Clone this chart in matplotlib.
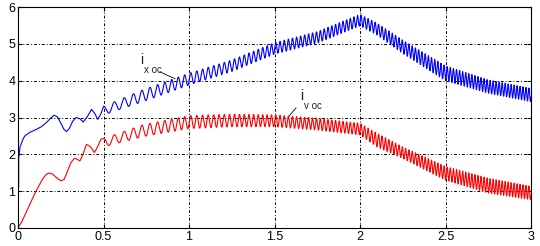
import numpy as np
import matplotlib
matplotlib.use("Agg")
import matplotlib.pyplot as plt

plt.rcParams["font.family"] = ["Liberation Sans", "DejaVu Sans"]

# ── start-up transient (t < 0.5) ──
blue_t0 = [0.004, 0.004, 0.008, 0.012, 0.02, 0.03, 0.04, 0.07, 0.10, 0.137, 0.17,
           0.195, 0.212, 0.23, 0.25, 0.27, 0.285, 0.30, 0.32, 0.34, 0.36, 0.382,
           0.405, 0.43, 0.45, 0.466, 0.485, 0.5]
blue_v0 = [1.1, 1.9, 2.05, 2.2, 2.3, 2.42, 2.5, 2.6, 2.66, 2.75, 2.88,
           3.0, 3.06, 3.02, 2.85, 2.67, 2.62, 2.7, 2.9, 3.0, 2.97, 2.88,
           3.02, 3.22, 3.1, 2.95, 3.1, 3.3]
red_t0 = [0.0, 0.02, 0.06, 0.10, 0.14, 0.16, 0.177, 0.20, 0.23, 0.25, 0.27,
          0.29, 0.31, 0.33, 0.345, 0.362, 0.38, 0.40, 0.425, 0.447, 0.465,
          0.485, 0.5]
red_v0 = [0.0, 0.15, 0.55, 0.95, 1.3, 1.43, 1.49, 1.47, 1.35, 1.28, 1.32,
          1.55, 1.78, 1.89, 1.87, 1.82, 2.0, 2.27, 2.2, 2.05, 2.2,
          2.41, 2.43]

# ── ripple section: upper / lower envelopes ──
env_t = [0.5, 0.73, 1.0, 1.25, 1.5, 1.75, 2.0, 2.1, 2.25, 2.5, 2.75, 3.0]
blue_hi = [3.3, 3.75, 4.2, 4.56, 5.03, 5.33, 5.8, 5.56, 5.1, 4.4, 4.02, 3.79]
blue_lo = [3.07, 3.43, 3.88, 4.25, 4.72, 5.02, 5.49, 5.24, 4.74, 4.0, 3.66, 3.43]
red_hi = [2.43, 2.8, 3.05, 3.09, 3.07, 2.98, 2.84, 2.57, 2.2, 1.67, 1.35, 1.13]
red_lo = [2.2, 2.48, 2.7, 2.75, 2.75, 2.66, 2.53, 2.2, 1.89, 1.3, 0.95, 0.77]
# ripple cycles per unit time (counted from the picture)
freq_t = [0.5, 0.7, 1.0, 1.5, 2.0, 2.5, 3.0]
freq_f = [15, 20, 28, 40, 48, 55, 58]

t1 = np.linspace(0.5, 3.0, 30000)
f = np.interp(t1, freq_t, freq_f)
phase = 2 * np.pi * np.concatenate([[0], np.cumsum(0.5 * (f[1:] + f[:-1]) * np.diff(t1))])
wave = np.cos(phase)


def ripple(hi, lo):
    up = np.interp(t1, env_t, hi)
    dn = np.interp(t1, env_t, lo)
    return 0.5 * (up + dn) + 0.5 * (up - dn) * wave


blue = ripple(blue_hi, blue_lo)
red = ripple(red_hi, red_lo)

fig = plt.figure(figsize=(5.4, 2.46), dpi=100)
ax = fig.add_axes([18 / 540, 18 / 246, 513 / 540, 221 / 246])

ax.plot(red_t0, red_v0, color="#ff0000", lw=0.8)
ax.plot(t1, red, color="#ff0000", lw=0.8)
ax.plot(blue_t0, blue_v0, color="#0000ff", lw=0.8)
ax.plot(t1, blue, color="#0000ff", lw=0.8)

ax.set_xlim(0, 3)
ax.set_ylim(0, 6)
ax.set_xticks([0, 0.5, 1, 1.5, 2, 2.5, 3])
ax.set_xticklabels(["0", "0.5", "1", "1.5", "2", "2.5", "3"])
ax.set_yticks(range(7))
ax.tick_params(direction="in", top=True, right=True, labelsize=9, length=3, pad=2)
ax.grid(True, color="black", linestyle=(0, (3, 2, 1, 2)), linewidth=0.7)
for s in ax.spines.values():
    s.set_linewidth(0.8)

# labels with leader lines
ax.text(0.712, 4.45, "i", fontsize=10, color="#222222")
ax.text(0.735, 4.2, "x oc", fontsize=7, color="#222222")
ax.plot([0.83, 0.918], [4.24, 4.05], color="black", lw=0.6)
ax.text(1.65, 3.48, "i", fontsize=10, color="#222222")
ax.text(1.67, 3.23, "v oc", fontsize=7, color="#222222")
ax.plot([1.626, 1.585], [3.26, 3.04], color="black", lw=0.6)

fig.savefig("out.png", dpi=100)
